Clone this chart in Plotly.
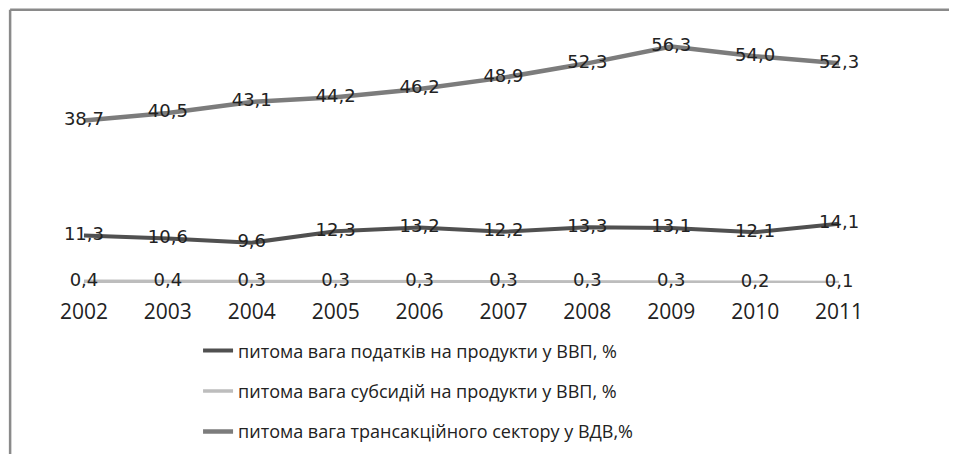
import plotly.graph_objects as go

years = ["2002", "2003", "2004", "2005", "2006", "2007", "2008", "2009", "2010", "2011"]
taxes = [11.3, 10.6, 9.6, 12.3, 13.2, 12.2, 13.3, 13.1, 12.1, 14.1]
subsidies = [0.4, 0.4, 0.3, 0.3, 0.3, 0.3, 0.3, 0.3, 0.2, 0.1]
transaction = [38.7, 40.5, 43.1, 44.2, 46.2, 48.9, 52.3, 56.3, 54.0, 52.3]

names = [
    "питома вага податків на продукти у ВВП, %",
    "питома вага субсидій на продукти у ВВП, %",
    "питома вага трансакційного сектору у ВДВ,%",
]

def fmt(v):
    return f"{v:.1f}".replace(".", ",")

label_font = dict(family="DejaVu Sans", size=18, color="#222222")

fig = go.Figure()
fig.add_trace(go.Scatter(
    x=years, y=taxes, name=names[0], mode="lines+text",
    line=dict(color="#505050", width=4),
    text=[fmt(v) for v in taxes], textposition="middle center",
    textfont=label_font, legendgroup="a", cliponaxis=False,
))
fig.add_trace(go.Scatter(
    x=years, y=subsidies, name=names[1], mode="lines+text",
    line=dict(color="#bdbdbd", width=3.5),
    text=[fmt(v) for v in subsidies], textposition="middle center",
    textfont=label_font, legendgroup="b", cliponaxis=False,
))
fig.add_trace(go.Scatter(
    x=years, y=transaction, name=names[2], mode="lines+text",
    line=dict(color="#7c7c7c", width=4.5),
    text=[fmt(v) for v in transaction], textposition="middle center",
    textfont=label_font, legendgroup="c", cliponaxis=False,
))

fig.update_layout(
    width=957, height=454,
    margin=dict(l=34, r=84, t=23, b=176),
    paper_bgcolor="white", plot_bgcolor="white",
    showlegend=True,
    legend=dict(
        x=0.186, y=-0.196, xanchor="left", yanchor="top",
        font=dict(family="Open Sans", size=18, color="#222222"),
        tracegroupgap=14, traceorder="grouped",
        bgcolor="rgba(0,0,0,0)",
    ),
    xaxis=dict(
        type="category", range=[-0.5, 9.5], showgrid=False, zeroline=False,
        showline=False, ticks="outside", ticklen=10, tickcolor="rgba(0,0,0,0)",
        tickfont=dict(family="Open Sans", size=21, color="#222222"),
    ),
    yaxis=dict(range=[0, 60], visible=False, showgrid=False, zeroline=False),
    shapes=[
        dict(type="line", xref="paper", yref="paper",
             x0=-0.038, x1=-0.038, y0=-0.8, y1=1.084,
             line=dict(color="#8a8a8a", width=2.5), layer="below"),
        dict(type="line", xref="paper", yref="paper",
             x0=-0.038, x1=1.2, y0=1.084, y1=1.084,
             line=dict(color="#8a8a8a", width=2.5), layer="below"),
    ],
)

fig.write_html("out.html")
